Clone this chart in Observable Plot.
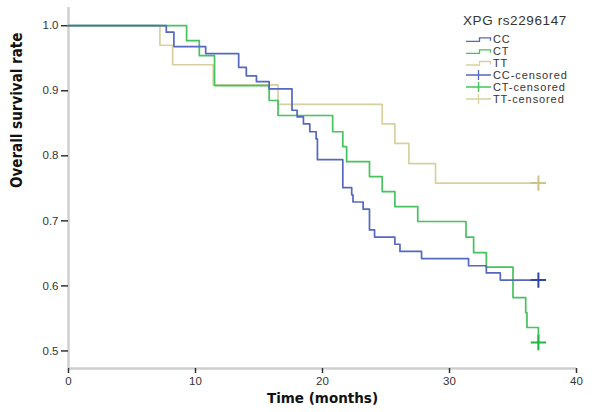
<!DOCTYPE html>
<html>
<head>
<meta charset="utf-8">
<script src="https://cdn.jsdelivr.net/npm/d3@7"></script>
<script src="https://cdn.jsdelivr.net/npm/@observablehq/plot@0.6"></script>
<style>
  html, body { margin: 0; padding: 0; background: #fff; }
  #chart svg { display: block; }
</style>
</head>
<body>
<div id="chart"></div>
<script>
// ---- data ----
const groups = ["CC", "CT", "TT"];
const colors = ["#5468bf", "#46c35c", "#d8d09e"];
const censorColors = ["#2f45a8", "#22b443", "#cdc38a"];

const ccTime = [0, 7.7, 8.3, 10.8, 13.4, 14.0, 14.8, 15.8, 17.6, 18.0, 18.5, 19.0, 19.5, 19.6, 21.6, 22.3, 22.4, 23.2, 23.7, 24.1, 25.7, 26.1, 27.8, 31.5, 32.9, 34.0, 37.0];
const ccSurv = [1, 0.990, 0.968, 0.957, 0.936, 0.923, 0.914, 0.903, 0.870, 0.860, 0.849, 0.837, 0.826, 0.794, 0.751, 0.740, 0.729, 0.718, 0.686, 0.675, 0.664, 0.653, 0.642, 0.631, 0.620, 0.609, 0.609];

const ctTime = [0, 9.3, 10.3, 11.5, 15.8, 16.5, 20.8, 21.6, 21.9, 23.7, 24.7, 25.7, 27.5, 31.3, 31.9, 32.9, 35.0, 36.0, 36.1, 37.0];
const ctSurv = [1, 0.977, 0.954, 0.908, 0.885, 0.862, 0.837, 0.814, 0.791, 0.768, 0.745, 0.722, 0.699, 0.675, 0.651, 0.629, 0.582, 0.559, 0.536, 0.513];

const ttTime = [0, 7.2, 8.2, 11.4, 16.5, 24.7, 25.7, 26.8, 28.9, 37.0];
const ttSurv = [1, 0.970, 0.940, 0.909, 0.879, 0.849, 0.819, 0.788, 0.758, 0.758];

const censorGroup = ["CC", "CT", "TT"];
const censorTime = [37.0, 37.0, 37.0];
const censorSurv = [0.609, 0.513, 0.758];

const xTicks = [0, 10, 20, 30, 40];
const yTicks = [0.5, 0.6, 0.7, 0.8, 0.9, 1.0];
const xLabel = "Time (months)";
const yLabel = "Overall survival rate";
const legendTitle = "XPG rs2296147";
const legendLabels = ["CC", "CT", "TT", "CC-censored", "CT-censored", "TT-censored"];

// ---- build tables ----
const series = [
  {g: "CC", t: ccTime, s: ccSurv},
  {g: "CT", t: ctTime, s: ctSurv},
  {g: "TT", t: ttTime, s: ttSurv}
];
const curveRows = series.flatMap(d => d.t.map((t, i) => ({group: d.g, time: t, surv: d.s[i]})));
const censorRows = censorGroup.map((g, i) => ({group: g, time: censorTime[i], surv: censorSurv[i]}));

const colorOf = g => colors[groups.indexOf(g)];
const censorColorOf = g => censorColors[groups.indexOf(g)];

const drawOrder = ["TT", "CT", "CC"];

const chart = Plot.plot({
  width: 597,
  height: 412,
  marginLeft: 68,
  marginRight: 21,
  marginTop: 7,
  marginBottom: 44,
  style: {background: "#fff", color: "#333", fontFamily: "'Liberation Sans', Arial, sans-serif"},
  x: {domain: [0, 40]},
  y: {domain: [0.473, 1.028]},
  marks: [
    Plot.ruleX([0], {stroke: "#cfcfcf", strokeWidth: 2.5}),
    Plot.ruleY([0.473], {stroke: "#cfcfcf", strokeWidth: 2.5}),
    Plot.axisX({ticks: xTicks, tickSize: 5, tickPadding: 3, fontSize: 11.5, label: null, stroke: "#333", strokeWidth: 1.5}),
    Plot.axisY({ticks: yTicks, tickSize: 7, tickPadding: 3, tickFormat: d3.format(".1f"), fontSize: 11.5, label: null, stroke: "#333", strokeWidth: 1.5}),
    ...drawOrder.map(g => Plot.line(curveRows.filter(d => d.group === g), {
      x: "time", y: "surv", curve: "step-after", stroke: colorOf(g), strokeWidth: 1.7
    })),
    Plot.dot(censorRows, {
      x: "time", y: "surv", symbol: "plus", r: 5,
      stroke: d => censorColorOf(d.group), strokeWidth: 2
    }),
    Plot.text([xLabel], {frameAnchor: "bottom", dy: 34, fontWeight: "bold", fontSize: 13.5, fill: "#111",
      fontFamily: "'DejaVu Sans', sans-serif", letterSpacing: 0.4}),
    Plot.text([yLabel], {frameAnchor: "left", dx: -51, rotate: -90, fontWeight: "bold", fontSize: 15, fill: "#111",
      fontFamily: "'Liberation Sans Narrow', 'DejaVu Sans Condensed', sans-serif"})
  ]
});

document.getElementById("chart").appendChild(chart);

// ---- legend (top right, inside the plot) ----
const svg = d3.select(chart);
const lg = svg.append("g")
  .attr("font-family", "'Liberation Sans', Arial, sans-serif")
  .attr("fill", "#333")
  .attr("text-anchor", "start");
lg.append("text").attr("x", 463).attr("y", 24.5).attr("font-size", 13.5).attr("letter-spacing", 0.6).text(legendTitle);
const rowY = [39.3, 51.3, 63, 75, 87, 99];
legendLabels.forEach((lab, i) => {
  const y = rowY[i];
  const c = i < 3 ? colors[i] : colors[i - 3];
  if (i < 3) {
    lg.append("path")
      .attr("d", `M466,${y + 2} H479.5 V${y - 1.5} H490.5 V${y + 1.5}`)
      .attr("fill", "none").attr("stroke", c).attr("stroke-width", 1.3);
  } else {
    lg.append("path")
      .attr("d", `M466,${y} H491 M478.5,${y - 5} V${y + 5}`)
      .attr("fill", "none").attr("stroke", c).attr("stroke-width", 1.3);
  }
  lg.append("text").attr("x", 493).attr("y", y + 4).attr("text-anchor", "start")
    .attr("font-size", 11).attr("letter-spacing", 0.9).text(lab);
});
</script>
</body>
</html>
